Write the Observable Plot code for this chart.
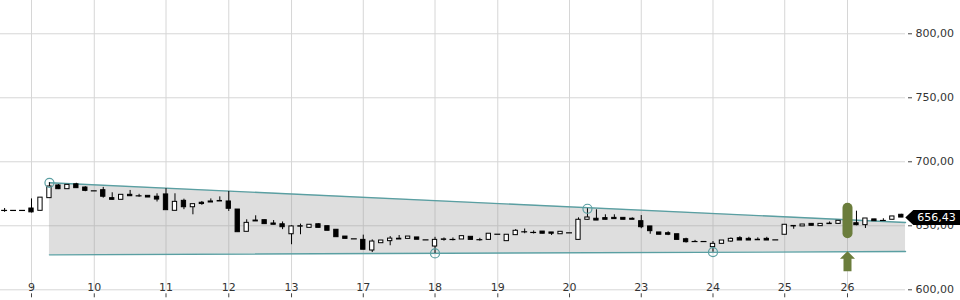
<!DOCTYPE html>
<html>
<head>
<meta charset="utf-8">
<script src="https://cdn.jsdelivr.net/npm/d3@7"></script>
<script src="https://cdn.jsdelivr.net/npm/@observablehq/plot@0.6"></script>
<style>
  html, body { margin: 0; padding: 0; background: #fff; }
  #chart { width: 960px; height: 300px; }
  svg { font-family: "DejaVu Sans", sans-serif; }
</style>
</head>
<body>
<div id="chart"></div>
<script>
// Hourly candles, indexed 0..100
const opens  = [662,662,662,663.5,661.7,671.6,681.5,678.6,682.4,679.9,677.3,677.8,671.6,670.3,674.2,673.4,673.4,672.7,674.5,661.7,669.5,664.5,668,669,669.4,669,662.7,645.3,654.1,654.4,651.8,651.2,643.4,649.3,648.4,651.2,649.7,646.9,641.6,639.8,639,630.7,636.4,638,639.9,639.8,640.9,639,633.8,639,639.2,639.3,641.4,639,639,643.4,638,642.7,645.2,644.7,645.5,644.8,643.4,644.5,639,654.7,655.5,656,656.2,656.2,655.5,653.6,649.5,644.8,644.2,643.4,639.5,637.6,637.7,633.3,635.9,637.7,640.3,639.8,639.1,639.8,639,643,649.5,649.5,651.5,649.7,651.7,651.5,653.6,652,650.5,655,654.3,654.7,658.6];
const highs  = [663.5,662,662,671,672,683.6,682.2,682,683.2,680.5,677.3,680,675.8,674.2,677.6,674.6,673.4,675,679,675,670.8,666.9,669,671,672.6,676.8,662.7,654.7,657.8,654.4,654.1,653,650,651.3,650.8,651.5,649.7,646.9,641.6,639.8,642.7,639,638.5,641.6,642.4,641.6,640.9,639,641,640.5,640.5,641.9,641.4,640.2,643.8,643.4,643,647.1,647.5,646,645.5,644.8,645.3,644.5,656.2,663.3,662.5,658.6,658.6,656.2,656.2,658,649.5,644.8,645.3,643.4,640.3,638.6,637.7,637.7,638.5,640.5,641.5,641,640.6,641,639,650.8,649.9,651,651.5,651.5,653,653.9,653.6,661.4,655.7,655,655.5,657.3,659];
const lows   = [660.5,662,662,660,661.7,671.6,678.3,678.6,679.4,676.6,677.3,671.6,670,670.3,673.1,672.3,672.1,668.6,662,661.7,662.6,658.6,666,668.2,669,661.2,645,645.3,653.4,651.3,650.8,647,635.2,643,648.4,648.4,646.1,641.1,639.8,639.8,631.3,629.1,636.4,634.4,639.3,639.8,639.1,639,628.4,638,638.2,639.3,639,638,639,643.4,638,642.7,643.8,643.6,643.8,642.4,643.4,644.5,639,654.5,654.1,654.7,655.2,654.7,654.7,647.7,643.4,643,642.3,639,636.5,637,637.7,629.4,635.9,637,638.5,638.5,638.7,638.5,639,643,647.3,649.5,650,649.7,651.3,651.5,653.6,650,647.9,653.6,654,654.7,656.4];
const closes = [662,662,662,660.5,672,680.7,678.6,682,679.4,677.3,677.3,672.7,670.3,674.2,673.1,673.4,672.1,670.5,662.2,668.7,664.5,666.9,667,668.2,669,663.3,645,652.3,653.4,651.3,650.8,648.9,649.5,649.7,650.8,648.4,646.1,641.1,639.8,639.8,631.3,637.7,638.5,640,639.3,641.6,639.1,639,639,639.4,639.4,641.9,639,639.3,643.8,643.4,643,646.1,645.4,644.9,643.8,643.8,645.3,644.5,654.7,656.5,654.1,654.7,655.2,654.7,654.7,648.9,645.8,643,643,639,637.2,637.8,637.7,635.9,638.5,639.8,638.5,638.5,638.7,638.5,639,650.8,649.9,651,650,651.5,651.3,653.9,653.6,650.5,655.7,653.6,654,657.3,656.43];

// Day labels at the first candle index of each day
const dayTickIndex = [3,10,18,25,32,40,48,55,63,71,79,87,94];
const dayLabels    = ["9","10","11","12","13","17","18","19","20","23","24","25","26"];

// Price axis ticks
const priceTicks = [600,650,700,750,800];

// Triangle / channel
const channelX     = [5, 100.47];
const channelUpper = [683.6, 652.6];
const channelLower = [627.3, 629.9];
const touchIndex   = [5, 65, 48, 79];
const touchValue   = [683.6, 663.3, 628.4, 629.4];

// Signal annotation
const signalIndex = 94;
const signalRange = [663.75, 643.75];
const arrowTip    = 630.2;

const candles = opens.map((o, i) => ({i, o, h: highs[i], l: lows[i], c: closes[i]}));
const bodies = candles.filter(d => Math.abs(d.o - d.c) >= 0.3);
const dojis  = candles.filter(d => Math.abs(d.o - d.c) < 0.3);
const channel = channelX.map((x, k) => ({x, hi: channelUpper[k], lo: channelLower[k]}));
const touches = touchIndex.map((i, k) => ({i, v: touchValue[k]}));
const ticks = dayTickIndex.map((i, k) => ({i, label: dayLabels[k]}));
const last = candles[candles.length - 1];
const fmt = v => v.toFixed(2).replace(".", ",");

const tagSymbol = {
  draw(ctx) {
    ctx.moveTo(0, 0); ctx.lineTo(8, -7.5); ctx.lineTo(56, -7.5);
    ctx.lineTo(56, 7.5); ctx.lineTo(8, 7.5); ctx.closePath();
  }
};
const arrowSymbol = {
  draw(ctx) {
    ctx.moveTo(0, 0); ctx.lineTo(7.5, 7.5); ctx.lineTo(4, 7.5); ctx.lineTo(4, 20);
    ctx.lineTo(-4, 20); ctx.lineTo(-4, 7.5); ctx.lineTo(-7.5, 7.5); ctx.closePath();
  }
};

const teal = "#5a9fa2";
const green = "#6b7d3c";
const gridColor = "#d6d6d6";

const chart = Plot.plot({
  width: 960,
  height: 300,
  marginTop: 0,
  marginLeft: 0,
  marginRight: 55,
  marginBottom: 10.7,
  style: {fontFamily: "DejaVu Sans, sans-serif", fontSize: "11px", color: "#333", background: "white", overflow: "visible"},
  x: {domain: [0, 100], range: [4.1, 900.8], axis: null},
  y: {domain: [600, 826], axis: null},
  marks: [
    Plot.gridY(priceTicks, {stroke: gridColor, strokeOpacity: 1}),
    Plot.gridX(dayTickIndex, {stroke: gridColor, strokeOpacity: 1}),
    Plot.areaY(channel, {x: "x", y1: "lo", y2: "hi", fill: "#999", fillOpacity: 0.32}),
    Plot.line(channel, {x: "x", y: "hi", stroke: teal, strokeWidth: 1.4}),
    Plot.line(channel, {x: "x", y: "lo", stroke: teal, strokeWidth: 1.4}),
    Plot.ruleX(candles, {x: "i", y1: "l", y2: "h", stroke: "black", strokeWidth: 1}),
    Plot.rect(bodies, {x1: d => d.i - 0.24, x2: d => d.i + 0.24, y1: "o", y2: "c",
      fill: d => d.c >= d.o ? "white" : "black", stroke: "black", strokeWidth: 1}),
    Plot.ruleY(dojis, {y: d => (d.o + d.c) / 2, x1: d => d.i - 0.33, x2: d => d.i + 0.33, stroke: "black", strokeWidth: 1.2}),
    Plot.dot(touches, {x: "i", y: "v", r: 4.5, stroke: teal, strokeWidth: 1.2, fill: "none"}),
    Plot.ruleX([signalIndex], {x: d => d, y1: signalRange[0], y2: signalRange[1], stroke: green, strokeWidth: 10, strokeLinecap: "round"}),
    Plot.dot([signalIndex], {x: d => d, y: arrowTip, symbol: arrowSymbol, fill: green, stroke: "none"}),
    Plot.axisY(priceTicks, {anchor: "right", tickSize: 4, tickPadding: 4, dx: 2, tickFormat: fmt, stroke: "#444", fill: "#333", fontSize: 11, label: null}),
    Plot.axisX(dayTickIndex, {anchor: "bottom", tickSize: 4, dy: 4, tickFormat: () => "", stroke: "#444", label: null}),
    Plot.text(ticks, {x: "i", y: 600, text: "label", dy: -2, fill: "#333", fontSize: 11}),
    Plot.dot([last], {x: "i", y: "c", symbol: tagSymbol, fill: "black", stroke: "none", dx: 4}),
    Plot.text([last], {x: "i", y: "c", text: d => fmt(d.c), dx: 16, textAnchor: "start", fill: "white", fontSize: 11})
  ]
});
document.getElementById("chart").appendChild(chart);
</script>
</body>
</html>
